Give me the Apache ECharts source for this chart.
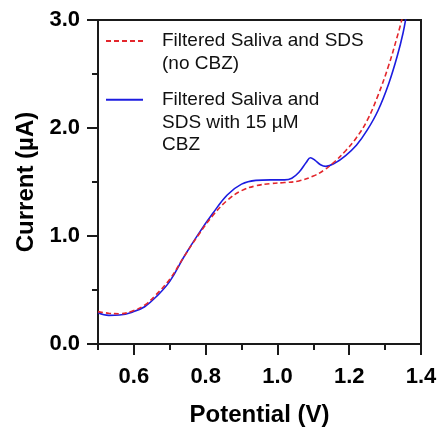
<!DOCTYPE html>
<html>
<head>
<meta charset="utf-8">
<script src="https://cdn.jsdelivr.net/npm/echarts@6/dist/echarts.min.js"></script>
<style>
  html, body { margin: 0; padding: 0; background: #fff; }
  #chart { width: 440px; height: 427px; }
</style>
</head>
<body>
<div id="chart"></div>
<script>
// potential (V) / current (uA)
const potNoCbz = [0.50, 0.53, 0.56, 0.60, 0.63, 0.66, 0.70, 0.74, 0.78, 0.82, 0.86, 0.90, 0.94, 0.98,
  1.02, 1.06, 1.10, 1.13, 1.16, 1.19, 1.22, 1.25, 1.28, 1.31, 1.335, 1.348];
const curNoCbz = [0.30, 0.285, 0.28, 0.31, 0.36, 0.45, 0.60, 0.81, 1.01, 1.19, 1.33, 1.42, 1.465, 1.485,
  1.495, 1.51, 1.555, 1.61, 1.69, 1.79, 1.91, 2.07, 2.30, 2.58, 2.86, 3.02];

const potCbz = [0.50, 0.53, 0.56, 0.60, 0.63, 0.66, 0.70, 0.74, 0.78, 0.82, 0.86, 0.90, 0.94, 0.98,
  1.02, 1.04, 1.06, 1.08, 1.092, 1.105, 1.12, 1.135, 1.16, 1.19, 1.22, 1.25, 1.28, 1.31, 1.335, 1.35, 1.358];
const curCbz = [0.29, 0.265, 0.268, 0.30, 0.345, 0.43, 0.58, 0.81, 1.02, 1.21, 1.38, 1.48, 1.515, 1.52,
  1.52, 1.535, 1.59, 1.68, 1.725, 1.70, 1.66, 1.645, 1.675, 1.745, 1.84, 1.98, 2.16, 2.41, 2.68, 2.88, 3.02];

const xMajorTicks = [0.6, 0.8, 1.0, 1.2, 1.4];
const nameNoCbz = 'Filtered Saliva and SDS\n(no CBZ)';
const nameCbz = 'Filtered Saliva and\nSDS with 15 µM\nCBZ';

const font = '"Liberation Sans", Arial, sans-serif';
const ink = '#1a1a1a';

function pairs(xs, ys) {
  return xs.map((x, i) => [x, ys[i]]);
}

const chart = echarts.init(document.getElementById('chart'));

// legend icon sits on the first text line: pad the text with blank lines above
const legendBase = {
  orient: 'vertical',
  left: 105,
  padding: 0,
  itemWidth: 37,
  itemHeight: 12,
  itemStyle: { opacity: 0 },
  textStyle: { fontFamily: font, fontSize: 19, color: '#111', lineHeight: 22.7, padding: [0, 0, 0, 14] }
};

chart.setOption({
  animation: false,
  grid: {
    left: 98, right: 19, top: 20, bottom: 83,
    outerBoundsMode: 'none',
    show: true, borderColor: ink, borderWidth: 2, backgroundColor: 'transparent'
  },
  legend: [
    Object.assign({}, legendBase, {
      top: 7, data: [nameNoCbz],
      formatter: name => ' \n' + name
    }),
    Object.assign({}, legendBase, {
      top: 43, data: [nameCbz],
      formatter: name => ' \n \n' + name
    })
  ],
  xAxis: [
    {
      type: 'value', min: 0.5, max: 1.4,
      name: 'Potential (V)', nameLocation: 'middle', nameGap: 59,
      nameTextStyle: { fontFamily: font, fontSize: 24, fontWeight: 'bold', color: '#000' },
      axisLine: { lineStyle: { color: ink, width: 2 } },
      axisTick: { customValues: xMajorTicks, length: 11, lineStyle: { color: ink, width: 2 } },
      axisLabel: {
        customValues: xMajorTicks, margin: 22,
        fontFamily: font, fontSize: 22, fontWeight: 'bold', color: '#000',
        formatter: v => v.toFixed(1)
      },
      splitLine: { show: false }
    },
    {
      type: 'value', min: 0.5, max: 1.4, interval: 0.1, position: 'bottom',
      axisLine: { show: false },
      axisTick: { length: 6, lineStyle: { color: ink, width: 2 } },
      axisLabel: { show: false },
      splitLine: { show: false }
    }
  ],
  yAxis: {
    type: 'value', min: 0, max: 3, interval: 1,
    name: 'Current (µA)', nameLocation: 'middle', nameGap: 60,
    nameTextStyle: { fontFamily: font, fontSize: 24, fontWeight: 'bold', color: '#000' },
    axisLine: { show: true, lineStyle: { color: ink, width: 2 } },
    axisTick: { show: true, length: 11, lineStyle: { color: ink, width: 2 } },
    minorTick: { show: true, splitNumber: 2, length: 6, lineStyle: { color: ink, width: 2 } },
    axisLabel: {
      margin: 18, fontFamily: font, fontSize: 22, fontWeight: 'bold', color: '#000',
      formatter: v => v.toFixed(1)
    },
    splitLine: { show: false }
  },
  series: [
    {
      name: nameNoCbz, type: 'line', smooth: 0.4, symbol: 'none',
      data: pairs(potNoCbz, curNoCbz),
      lineStyle: { color: '#e3262c', width: 1.6, type: [5, 3] },
      itemStyle: { color: '#e3262c' },
      z: 3
    },
    {
      name: nameCbz, type: 'line', smooth: 0.4, symbol: 'none',
      data: pairs(potCbz, curCbz),
      lineStyle: { color: '#1c1ce0', width: 1.6 },
      itemStyle: { color: '#1c1ce0' },
      z: 2
    }
  ]
});
</script>
</body>
</html>
